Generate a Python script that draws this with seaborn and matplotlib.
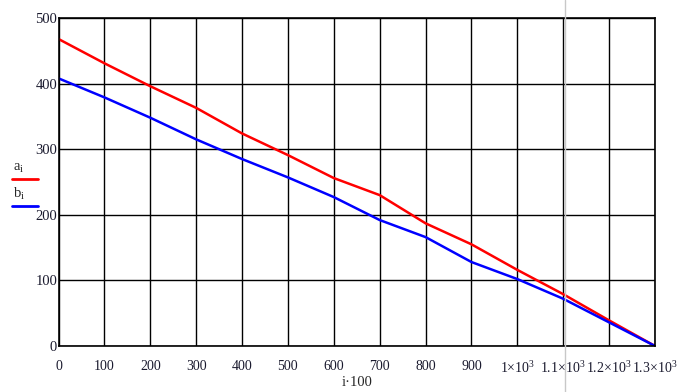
import numpy as np
import pandas as pd
import seaborn as sns
import matplotlib.pyplot as plt
from matplotlib.lines import Line2D

x_vals = [0, 100, 200, 300, 400, 500, 600, 700, 800, 900, 1000, 1100, 1200, 1300]
a_vals = [468, 431, 396, 363, 324, 291, 256, 230, 187, 155, 116, 79, 39, 0]
b_vals = [408, 379, 348, 315, 285, 257, 227, 192, 166, 128, 102, 72, 36, 0]
x_ticks = list(range(0, 1400, 100))
x_labels = [str(v) for v in range(0, 1000, 100)] + [r"$1{\times}10^3$", r"$1.1{\times}10^3$",
                                                    r"$1.2{\times}10^3$", r"$1.3{\times}10^3$"]
y_ticks = [0, 100, 200, 300, 400, 500]

df = pd.DataFrame({"x": x_vals * 2,
                   "val": a_vals + b_vals,
                   "series": ["a"] * len(x_vals) + ["b"] * len(x_vals)})

sns.set_style("white")
plt.rcParams['font.family'] = ['Liberation Serif', 'DejaVu Serif']
plt.rcParams['mathtext.fontset'] = 'custom'
plt.rcParams['mathtext.rm'] = 'Liberation Serif'
plt.rcParams['mathtext.it'] = 'Liberation Serif'

fig = plt.figure(figsize=(6.8, 3.92), dpi=100)
ax = fig.add_axes([58.5 / 680, 46 / 392, (655 - 58.5) / 680, (346 - 18) / 392])

sns.lineplot(data=df, x="x", y="val", hue="series", palette={"a": "#ff0000", "b": "#0000ff"},
             linewidth=1.8, legend=False, ax=ax)

ax.set_xlim(0, 1300)
ax.set_ylim(0, 500)
ax.set_xticks(x_ticks)
ax.set_xticklabels(x_labels, fontsize=10, color="#1a1a2e")
ax.set_yticks(y_ticks)
ax.set_yticklabels([str(v) for v in y_ticks], fontsize=10.5, color="#1a1a2e")
ax.tick_params(axis="x", length=0, pad=10)
ax.tick_params(axis="y", length=0, pad=1)
ax.grid(True, color="black", linewidth=1)
ax.set_axisbelow(True)
for s in ax.spines.values():
    s.set_color("black")
    s.set_linewidth(1.2)
ax.set_xlabel("")
ax.set_ylabel("")
fig.text((58.5 + 655) / 2 / 680, 1 - 383 / 392, "i·100", fontsize=10.5, ha="center", va="center")

# legend on the left, Mathcad style
fig.text(13 / 680, 1 - 168 / 392, r"a$_{\mathrm{i}}$", fontsize=10.5, va="center")
fig.add_artist(Line2D([12 / 680, 38 / 680], [1 - 179 / 392] * 2, color="#ff0000", linewidth=2))
fig.text(13 / 680, 1 - 194 / 392, r"b$_{\mathrm{i}}$", fontsize=10.5, va="center")
fig.add_artist(Line2D([12 / 680, 38 / 680], [1 - 206 / 392] * 2, color="#0000ff", linewidth=2))

# faint gray vertical cursor line
fig.add_artist(Line2D([564.5 / 680] * 2, [0, 1], color="#c8c8c8", linewidth=1))

fig.savefig("out.png", dpi=100)
